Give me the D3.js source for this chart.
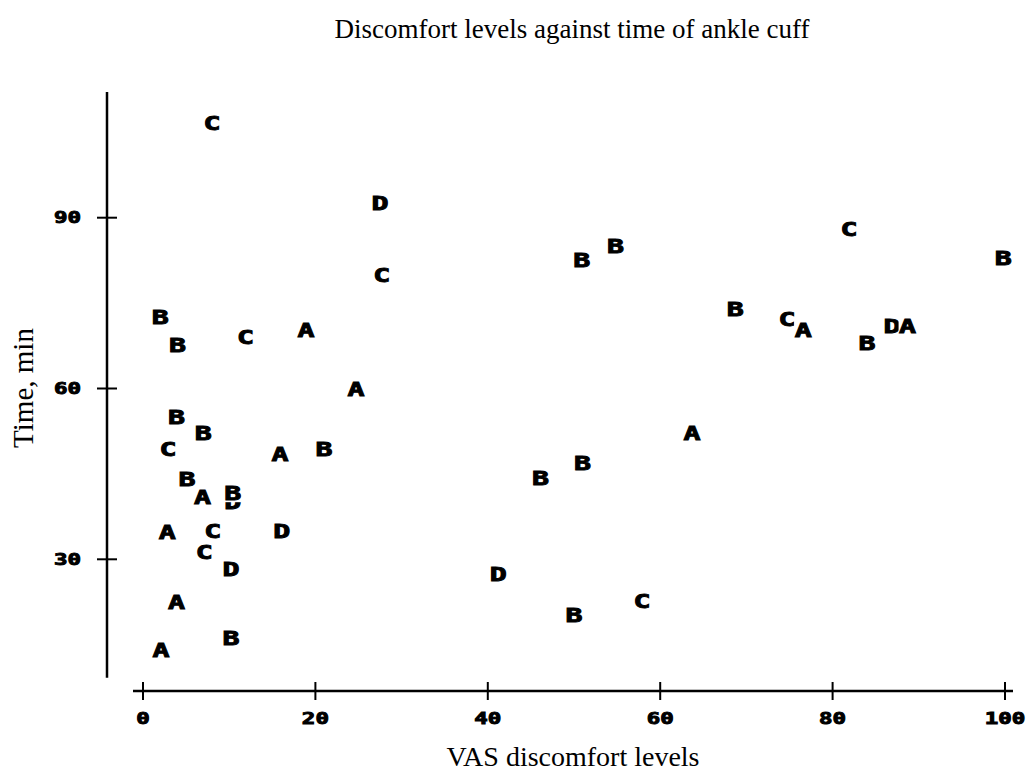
<!DOCTYPE html>
<html>
<head>
<meta charset="utf-8">
<script src="https://cdn.jsdelivr.net/npm/d3@7"></script>
<style>
    body { margin: 0; background: #fff; }
    .mark { font-family: "DejaVu Sans Mono", monospace; font-weight: bold; font-size: 19.5px; fill: #000; stroke: #000; stroke-width: 0.9px; }
    .tick-label { font-family: "DejaVu Sans Mono", monospace; font-weight: bold; font-size: 15.5px; fill: #000; stroke: #000; stroke-width: 0.9px; }
    .serif { font-family: "Liberation Serif", "Times New Roman", serif; fill: #000; }
</style>
</head>
<body>
<div class="chart-container"></div>
<script>
// discomfort score (VAS), time of cuff (min) and subject group letter
var vas = [8.0, 27.5, 27.7, 2.0, 4.0, 11.9, 18.9, 24.7, 3.9, 7.0,
    2.9, 15.9, 21.0, 5.1, 6.9, 10.4, 10.4, 2.8, 8.1, 16.1,
    7.1, 10.2, 3.9, 10.2, 2.1, 41.2, 46.1, 51.0, 63.7, 50.0,
    57.9, 50.9, 54.8, 81.9, 99.8, 68.7, 74.7, 76.6, 84.0, 86.9, 88.7];
var minutes = [106.6, 92.6, 79.9, 72.6, 67.6, 69.1, 70.2, 59.9, 55.0, 52.2,
    49.4, 48.5, 49.4, 44.1, 40.9, 40.0, 41.7, 34.8, 35.0, 35.0,
    31.2, 28.3, 22.5, 16.2, 14.1, 27.4, 44.3, 47.0, 52.2, 20.2,
    22.6, 82.6, 85.1, 88.0, 82.9, 73.9, 72.2, 70.3, 68.0, 71.0, 71.0];
var group = ["C", "D", "C", "B", "B", "C", "A", "A", "B", "B",
    "C", "A", "B", "B", "A", "D", "B", "A", "C", "D",
    "C", "D", "A", "B", "A", "D", "B", "B", "A", "B",
    "C", "B", "B", "C", "B", "B", "C", "A", "B", "D", "A"];

var xTicks = [0, 20, 40, 60, 80, 100];
var yTicks = [30, 60, 90];

var width = 1026, height = 771;

var svg = d3.select(".chart-container")
    .append("svg")
    .attr("width", width)
    .attr("height", height);

var x = d3.scaleLinear().domain([0, 100]).range([143, 1005]);
var y = d3.scaleLinear().domain([30, 90]).range([559.3, 217.7]);

// title
svg.append("text")
    .attr("class", "serif")
    .attr("x", 572)
    .attr("y", 38)
    .attr("text-anchor", "middle")
    .style("font-size", "27px")
    .text("Discomfort levels against time of ankle cuff");

// y axis
var yAxis = svg.append("g").attr("transform", "translate(107,0)");
yAxis.append("line")
    .attr("x1", 0).attr("x2", 0)
    .attr("y1", y(112.1)).attr("y2", y(9.2))
    .style("stroke", "#000").style("stroke-width", 2.5);
yAxis.selectAll("line.tk")
    .data(yTicks)
    .enter().append("line")
    .attr("class", "tk")
    .attr("x1", -10).attr("x2", 10)
    .attr("y1", function(d) { return y(d); })
    .attr("y2", function(d) { return y(d); })
    .style("stroke", "#000").style("stroke-width", 2);
svg.selectAll("text.ylab")
    .data(yTicks)
    .enter().append("text")
    .attr("class", "tick-label ylab")
    .attr("text-anchor", "end")
    .attr("transform", function(d) { return "translate(81," + (y(d) + 5.5) + ") scale(1.45,1)"; })
    .text(function(d) { return d; });

// x axis
var xAxis = svg.append("g").attr("transform", "translate(0,691)");
xAxis.append("line")
    .attr("x1", 133).attr("x2", 1013)
    .attr("y1", 0).attr("y2", 0)
    .style("stroke", "#000").style("stroke-width", 2.5);
xAxis.selectAll("line.tk")
    .data(xTicks)
    .enter().append("line")
    .attr("class", "tk")
    .attr("x1", function(d) { return x(d); })
    .attr("x2", function(d) { return x(d); })
    .attr("y1", -9).attr("y2", 9)
    .style("stroke", "#000").style("stroke-width", 2);
svg.selectAll("text.xlab")
    .data(xTicks)
    .enter().append("text")
    .attr("class", "tick-label xlab")
    .attr("text-anchor", "middle")
    .attr("transform", function(d) { return "translate(" + x(d) + ",724) scale(1.45,1)"; })
    .text(function(d) { return d; });

// axis titles
svg.append("text")
    .attr("class", "serif")
    .attr("x", 573)
    .attr("y", 766)
    .attr("text-anchor", "middle")
    .style("font-size", "28px")
    .text("VAS discomfort levels");

svg.append("text")
    .attr("class", "serif")
    .attr("transform", "translate(33,388) rotate(-90)")
    .attr("text-anchor", "middle")
    .style("font-size", "29px")
    .text("Time, min");

// points are letters; each one blanks its own cell, like the old plotter did
var idx = d3.range(vas.length);
var pts = svg.append("g").attr("class", "points")
    .selectAll("g")
    .data(idx)
    .enter().append("g")
    .attr("transform", function(i) { return "translate(" + x(vas[i]) + "," + y(minutes[i]) + ")"; });

pts.append("rect")
    .attr("x", -9).attr("y", -9.5)
    .attr("width", 18).attr("height", 19)
    .style("fill", "#fff");

pts.append("text")
    .attr("class", "mark")
    .attr("text-anchor", "middle")
    .attr("transform", "scale(1.45,1)")
    .attr("dy", "0.36em")
    .text(function(i) { return group[i]; });
</script>
</body>
</html>
